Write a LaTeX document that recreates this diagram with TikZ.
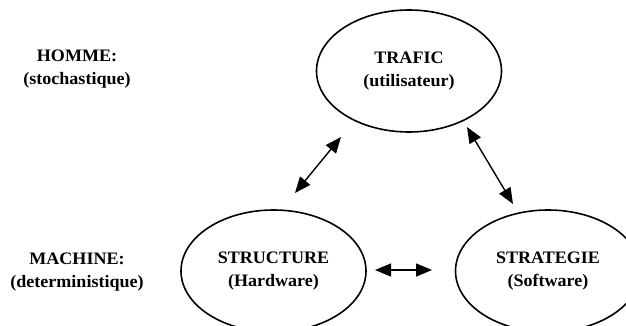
\documentclass[tikz,border=0pt]{standalone}
\usepackage{fontspec}
\setmainfont{Liberation Serif}[FakeStretch=1.03]
\usetikzlibrary{shapes.geometric,arrows.meta}
\begin{document}
\begin{tikzpicture}[x=1pt,y=-1pt,
  txt/.style={font=\fontsize{17.5}{23}\selectfont\bfseries, align=center, inner sep=0pt},
  bubble/.style={txt, draw, ellipse, line width=1.6pt, minimum width=185pt, minimum height=122pt},
  link/.style={line width=1.4pt, {Triangle[length=16pt,width=13pt]}-{Triangle[length=16pt,width=13pt]}}]
  \useasboundingbox (0,0) rectangle (626,326);

  % the three domains
  \node[bubble] (trafic) at (409,71) {TRAFIC\\(utilisateur)};
  \node[bubble] (structure) at (273.5,271) {STRUCTURE\\(Hardware)};
  \node[bubble] (strategie) at (548,271) {STRATEGIE\\(Software)};

  % row labels
  \node[txt] (homme) at (77,69) {HOMME:\\(stochastique)};
  \node[txt] (machine) at (77,272) {MACHINE:\\(deterministique)};

  % arrow end points between the ellipses
  \coordinate (ts1) at (341,137);
  \coordinate (ts2) at (295,193);
  \coordinate (tg1) at (467,127);
  \coordinate (tg2) at (513,204);
  \coordinate (sg1) at (375,270);
  \coordinate (sg2) at (432,270);

  \draw[link] (ts1) -- (ts2);
  \draw[link] (tg1) -- (tg2);
  \draw[link] (sg1) -- (sg2);
\end{tikzpicture}
\end{document}
